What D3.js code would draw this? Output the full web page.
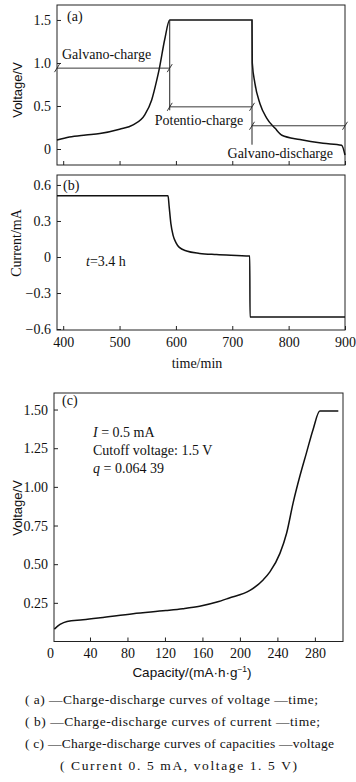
<!DOCTYPE html>
<html><head><meta charset="utf-8">
<script src="https://cdn.jsdelivr.net/npm/d3@7"></script>
<style>
html,body{margin:0;padding:0;background:#fff;}
svg{display:block;}
</style></head>
<body>
<svg id="c" width="356" height="782"></svg>
<script>
// ---- data ----
const timeA = [389, 411, 440, 465, 500, 524, 545, 557, 566, 571, 580, 589, 735, 735.5, 740, 749, 761, 776, 788, 820, 861, 894, 900];
const voltA = [0.105, 0.14, 0.163, 0.18, 0.23, 0.28, 0.40, 0.57, 0.80, 0.95, 1.27, 1.50, 1.50, 1.00, 0.77, 0.53, 0.36, 0.24, 0.16, 0.11, 0.066, 0.043, -0.07];

const timeB = [389, 586, 588, 591, 595, 600, 606, 619, 642, 672, 731, 731.5, 900];
const currB = [0.51, 0.51, 0.42, 0.28, 0.18, 0.12, 0.08, 0.05, 0.03, 0.02, 0.008, -0.50, -0.50];

const capC  = [2, 8, 15.5, 32.5, 51, 86, 121, 139, 157, 175.5, 188, 210.7, 225, 232, 242.7, 249.8, 256.9, 264, 271, 278, 285.3, 305];
const voltC = [0.08, 0.11, 0.13, 0.14, 0.153, 0.18, 0.20, 0.212, 0.228, 0.255, 0.28, 0.33, 0.40, 0.45, 0.57, 0.70, 0.90, 1.07, 1.22, 1.37, 1.49, 1.49];

const timeTicks = [400, 500, 600, 700, 800, 900];
const voltTicksA = [0, 0.5, 1.0, 1.5];
const voltTickLabelsA = ["0", "0.5", "1.0", "1.5"];
const currTicks = [-0.6, -0.3, 0, 0.3, 0.6];
const currTickLabels = ["\u22120.6", "\u22120.3", "0", "0.3", "0.6"];
const capTicks = [40, 80, 120, 160, 200, 240, 280];
const voltTicksC = [0.25, 0.50, 0.75, 1.00, 1.25, 1.50];

// annotation spans in panel (a)
const spanNames = ["Galvano-charge", "Potentio-charge", "Galvano-discharge"];
const spanStart = [389, 589, 735];
const spanEnd   = [589, 735, 900];
const spanLevel = [0.94, 0.49, 0.27];
const dividerTime = [589, 735];
const dividerLow  = [0.45, 0.05];

const captionLines = [
  "( a) \u2014Charge-discharge curves of voltage \u2014time;",
  "( b) \u2014Charge-discharge curves of current \u2014time;",
  "( c) \u2014Charge-discharge curves of capacities \u2014voltage",
  "( Current 0. 5 mA,  voltage 1. 5 V)"
];

// ---- drawing ----
const SERIF = '"Liberation Serif","Times New Roman",serif';
const SANS = '"Liberation Sans",Arial,sans-serif';
const svg = d3.select("#c");
const FS = 14;

const xT = d3.scaleLinear().domain([389, 900]).range([57, 345]);
const yA = d3.scaleLinear().domain([-0.186, 1.674]).range([165, 5]);
const yB = d3.scaleLinear().domain([-0.608, 0.683]).range([330, 175]);
const xC = d3.scaleLinear().domain([1.6, 310]).range([54, 343]);
const yC = d3.scaleLinear().domain([0, 1.607]).range([641.5, 393]);

function frame(x, y) {
  const [x0, x1] = x.range(), [y0, y1] = y.range();
  svg.append("rect").attr("x", x0).attr("y", y1).attr("width", x1 - x0).attr("height", y0 - y1)
    .attr("fill", "none").attr("stroke", "#222").attr("stroke-width", 1);
}
function leftTicks(x, y, vals, labels) {
  const g = svg.append("g").attr("transform", `translate(${x.range()[0]},0)`);
  const ax = d3.axisRight(y).tickValues(vals).tickSize(4).tickFormat((d, i) => labels ? labels[i] : "");
  g.call(ax);
  g.attr("font-family", SERIF).attr("font-size", FS);
  g.select(".domain").remove();
  g.selectAll(".tick line").attr("stroke", "#222");
  g.selectAll(".tick text").attr("x", -6).attr("text-anchor", "end").attr("fill", "#111");
}
function bottomTicks(x, y, vals, labels, dy) {
  const g = svg.append("g").attr("transform", `translate(0,${y.range()[0]})`);
  const ax = d3.axisTop(x).tickValues(vals).tickSize(4).tickFormat((d, i) => labels ? labels[i] : "");
  g.call(ax);
  g.attr("font-family", SERIF).attr("font-size", FS);
  g.select(".domain").remove();
  g.selectAll(".tick line").attr("stroke", "#222");
  g.selectAll(".tick text").attr("y", dy || 17).attr("dy", 0).attr("fill", "#111");
}
function text(x, y, s, fam, opts = {}) {
  const t = svg.append("text").attr("x", x).attr("y", y).attr("font-family", fam)
    .attr("font-size", opts.size || FS).attr("fill", "#111").text(s);
  if (opts.anchor) t.attr("text-anchor", opts.anchor);
  if (opts.rotate) t.attr("transform", `rotate(-90,${x},${y})`);
  if (opts.italic) t.attr("font-style", "italic");
  return t;
}
const lineGen = (x, y) => d3.line().x(d => x(d[0])).y(d => y(d[1])).curve(d3.curveMonotoneX);

// Panel (a)
frame(xT, yA);
leftTicks(xT, yA, voltTicksA, voltTickLabelsA);
bottomTicks(xT, yA, timeTicks, null);
svg.append("path").datum(timeA.map((t, i) => [t, voltA[i]]))
  .attr("d", lineGen(xT, yA)).attr("fill", "none").attr("stroke", "#111").attr("stroke-width", 1.5);
dividerTime.forEach((t, i) => {
  svg.append("line").attr("x1", xT(t)).attr("x2", xT(t)).attr("y1", yA(1.5)).attr("y2", yA(dividerLow[i]))
    .attr("stroke", "#222").attr("stroke-width", 1);
});
spanNames.forEach((n, i) => {
  const yy = yA(spanLevel[i]);
  svg.append("line").attr("x1", xT(spanStart[i])).attr("x2", xT(spanEnd[i])).attr("y1", yy).attr("y2", yy)
    .attr("stroke", "#222").attr("stroke-width", 0.9);
  [spanStart[i], spanEnd[i]].forEach(t => {
    svg.append("line").attr("x1", xT(t) - 2.5).attr("x2", xT(t) + 2.5).attr("y1", yy + 4).attr("y2", yy - 4)
      .attr("stroke", "#222").attr("stroke-width", 0.9);
  });
});
text(xT(spanStart[0]) + 5, yA(spanLevel[0]) - 9.5, spanNames[0], SERIF);
text(xT(spanStart[1]) - 15, yA(spanLevel[1]) + 18, spanNames[1], SERIF);
text(xT(spanEnd[2]) - 12, yA(spanLevel[2]) + 32, spanNames[2], SERIF, {anchor: "end"});
text(67, 21, "(a)", SERIF);
text(22, 90, "Voltage/V", SANS, {rotate: true, anchor: "middle", size: 13});

// Panel (b)
frame(xT, yB);
leftTicks(xT, yB, currTicks, currTickLabels);
bottomTicks(xT, yB, timeTicks, timeTicks.map(String));
svg.append("path").datum(timeB.map((t, i) => [t, currB[i]]))
  .attr("d", lineGen(xT, yB)).attr("fill", "none").attr("stroke", "#111").attr("stroke-width", 1.5);
text(63, 190, "(b)", SERIF);
const tl = text(86, 266, "", SERIF);
tl.append("tspan").attr("font-style", "italic").text("t");
tl.append("tspan").text("=3.4 h");
text(21, 243, "Current/mA", SERIF, {rotate: true, anchor: "middle"});
text(197, 368, "time/min", SERIF, {anchor: "middle"});

// Panel (c)
frame(xC, yC);
leftTicks(xC, yC, voltTicksC, voltTicksC.map(d => d.toFixed(2)));
bottomTicks(xC, yC, capTicks, capTicks.map(String), 16.5);
text(xC(0) - 2, yC(0) + 16.5, "0", SERIF, {anchor: "middle"});
svg.append("path").datum(capC.map((c, i) => [c, voltC[i]]))
  .attr("d", lineGen(xC, yC)).attr("fill", "none").attr("stroke", "#111").attr("stroke-width", 1.5);
text(62, 405, "(c)", SERIF);
const t1 = text(93, 437, "", SERIF);
t1.append("tspan").attr("font-style", "italic").text("I");
t1.append("tspan").text(" = 0.5 mA");
text(93, 455, "Cutoff voltage: 1.5 V", SERIF);
const t3 = text(93, 473, "", SERIF);
t3.append("tspan").attr("font-style", "italic").text("q");
t3.append("tspan").text(" = 0.064 39");
text(22, 508, "Voltage/V", SANS, {rotate: true, anchor: "middle", size: 13});
const cap = text(192, 677, "Capacity/(mA\u00b7h\u00b7g", SANS, {anchor: "middle", size: 13.5});
cap.append("tspan").attr("font-size", 8.5).attr("dy", -5).text("\u22121");
cap.append("tspan").attr("dy", 5).text(")");

// caption
const capY = [704, 726, 748, 770];
const capLen = [293, 295, 309, 237];
captionLines.forEach((s, i) => {
  const t = svg.append("text").attr("y", capY[i]).attr("font-family", SERIF).attr("font-size", 13.5)
    .attr("fill", "#111").attr("textLength", capLen[i]).attr("lengthAdjust", "spacing").text(s);
  if (i < 3) t.attr("x", 25);
  else t.attr("x", 60);
});
</script>
</body></html>
